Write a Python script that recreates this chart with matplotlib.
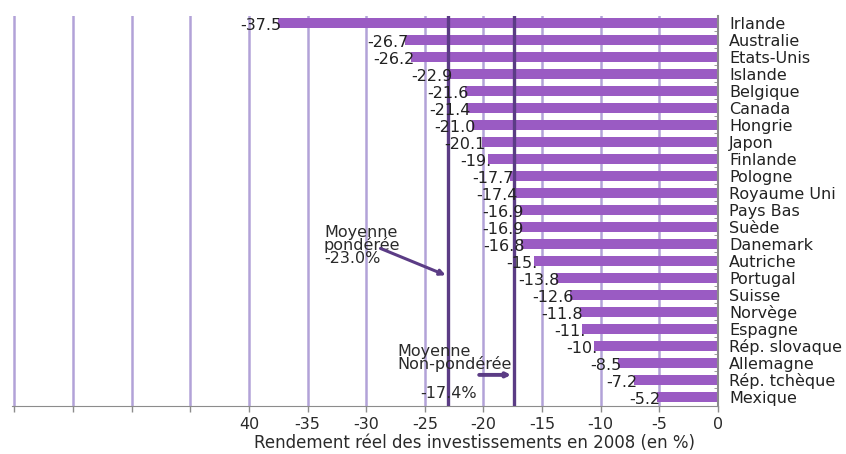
import matplotlib
matplotlib.use("Agg")
import matplotlib.pyplot as plt

# Rendement réel des investissements en 2008 (en %), par pays
pays = ["Irlande", "Australie", "Etats-Unis", "Islande", "Belgique", "Canada",
        "Hongrie", "Japon", "Finlande", "Pologne", "Royaume Uni", "Pays Bas",
        "Suède", "Danemark", "Autriche", "Portugal", "Suisse", "Norvège",
        "Espagne", "Rép. slovaque", "Allemagne", "Rép. tchèque", "Mexique"]
rendement = [-37.5, -26.7, -26.2, -22.9, -21.6, -21.4, -21.0, -20.1, -19.6,
             -17.7, -17.4, -16.9, -16.9, -16.8, -15.7, -13.8, -12.6, -11.8,
             -11.6, -10.6, -8.5, -7.2, -5.2]
etiquettes = ["-37.5", "-26.7", "-26.2", "-22.9", "-21.6", "-21.4", "-21.0",
              "-20.1", "-19.", "-17.7", "-17.4", "-16.9", "-16.9", "-16.8",
              "-15.", "-13.8", "-12.6", "-11.8", "-11.", "-10.", "-8.5",
              "-7.2", "-5.2"]
moyenne_ponderee = -23.0
moyenne_non_ponderee = -17.4

xticks = list(range(-60, 1, 5))
xticklabels = ["", "", "", "", "40", "-35", "-30", "-25", "-20", "-15", "-10", "-5", "0"]

bar_color = "#9a5bc3"
line_color = "#5b3c85"
grid_color = "#b2a2d8"
axis_color = "#8c8c8c"
fs = 11.5

fig = plt.figure(figsize=(8.46, 4.54), dpi=100)
ax = fig.add_axes([12 / 846, 1 - 406 / 454, 706 / 846, 390 / 454])

pos = list(range(len(pays)))
ax.barh(pos, rendement, height=0.62, color=bar_color, zorder=2)

for x in xticks[:-1]:
    ax.axvline(x, color=grid_color, lw=1.8, zorder=1)

ax.axvline(moyenne_ponderee, color=line_color, lw=2.4, zorder=3)
ax.axvline(moyenne_non_ponderee, color=line_color, lw=2.4, zorder=3)

for i, (v, lab) in enumerate(zip(rendement, etiquettes)):
    ax.text(v + 0.3, i + 0.12, lab, ha="right", va="center",
            fontsize=fs, color="#222222", zorder=4)

# annotations des moyennes
ax.text(-33.6, 14.3, "Moyenne\npondérée\n-23.0%", fontsize=fs, color="#2a2a2a",
        ha="left", va="bottom", linespacing=0.82, zorder=4)
ax.annotate("", xy=(moyenne_ponderee, 14.9), xytext=(-29.0, 13.2),
            arrowprops=dict(arrowstyle="-|>", color=line_color, lw=2.2,
                            mutation_scale=8), zorder=4)

ax.text(-27.3, 20.55, "Moyenne\nNon-pondérée", fontsize=fs, color="#2a2a2a",
        ha="left", va="bottom", linespacing=0.82, zorder=4)
ax.text(-25.4, 21.8, "-17.4%", fontsize=fs, color="#2a2a2a",
        ha="left", va="center", zorder=4)
ax.annotate("", xy=(moyenne_non_ponderee, 20.7), xytext=(-20.6, 20.7),
            arrowprops=dict(arrowstyle="-|>", color=line_color, lw=2.8,
                            mutation_scale=6), zorder=4)

ax.set_xlim(-60.2, 0)
ax.set_ylim(22.53, -0.41)

ax.set_xticks(xticks)
ax.set_xticklabels(xticklabels, fontsize=fs, color="#2a2a2a")
ax.tick_params(axis="x", length=4, width=1, color=axis_color, pad=4)

ax.yaxis.tick_right()
ax.set_yticks(pos)
ax.set_yticklabels(pays, fontsize=fs, color="#222222")
ax.tick_params(axis="y", which="major", length=0, pad=8)
ax.set_yticks([p + 0.5 for p in pos[:-1]], minor=True)
ax.tick_params(axis="y", which="minor", length=3, direction="in",
               color=axis_color)

for side in ["top", "left"]:
    ax.spines[side].set_visible(False)
ax.spines["bottom"].set_color(axis_color)
ax.spines["right"].set_color(axis_color)
ax.spines["right"].set_linewidth(1.5)

ax.set_xlabel("Rendement réel des investissements en 2008 (en %)",
              fontsize=12, color="#2a2a2a", labelpad=0)
ax.xaxis.set_label_coords(0.655, -0.071)

fig.savefig("out.png", dpi=100)
